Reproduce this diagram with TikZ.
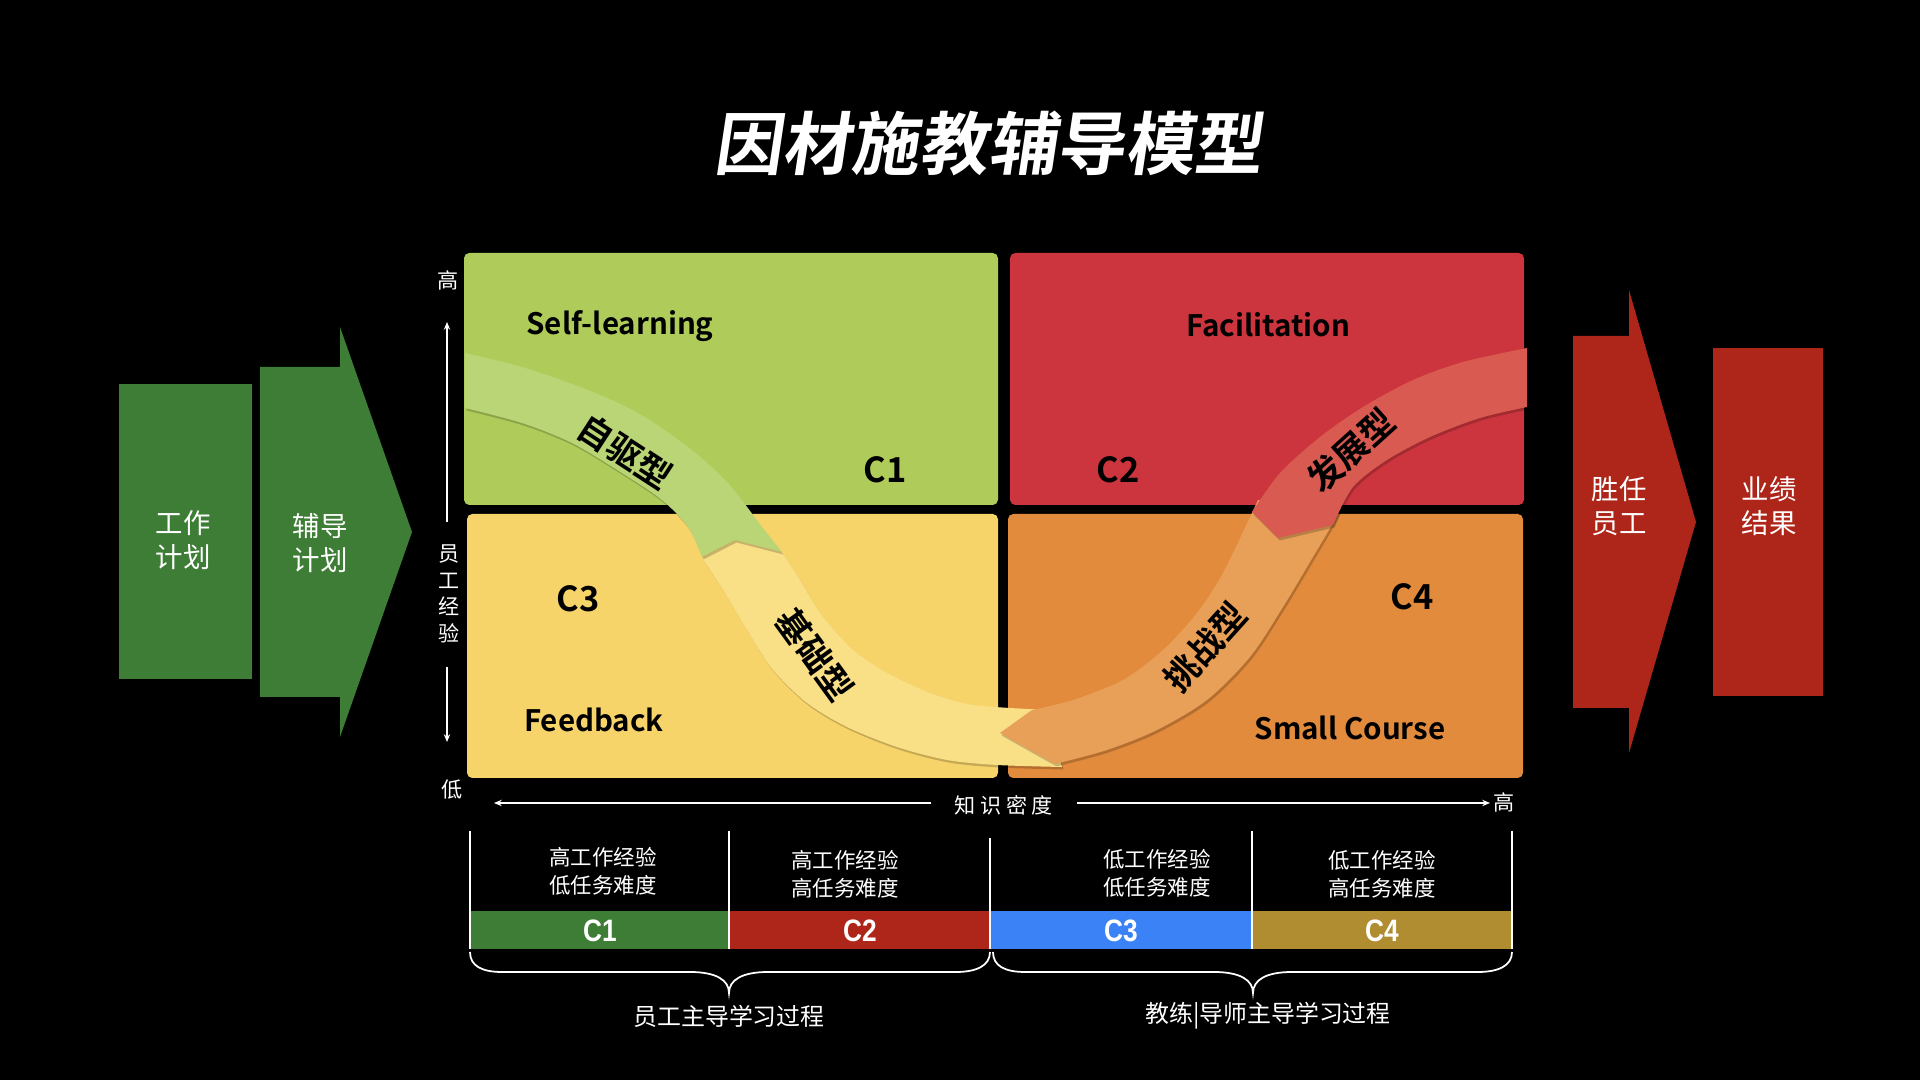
\documentclass[tikz,border=0pt]{standalone}
\usepackage{fontspec}
\setmainfont{Noto Sans CJK SC}
\newfontfamily\cjkb{Noto Sans CJK SC Bold}
\newfontfamily\titlef{Noto Sans CJK SC Bold}[FakeSlant=0.15]
\newfontfamily\barf{Liberation Sans Bold}[FakeStretch=0.85]
\usetikzlibrary{arrows.meta}
\definecolor{dkgreen}{HTML}{3D7D35}
\definecolor{dkred}{HTML}{AE261A}
\definecolor{qgreen}{HTML}{AFCC5A}
\definecolor{bgreen}{HTML}{BAD575}
\definecolor{qred}{HTML}{CC353D}
\definecolor{bred}{HTML}{D85A50}
\definecolor{qyellow}{HTML}{F7D469}
\definecolor{byellow}{HTML}{F9E087}
\definecolor{qorange}{HTML}{E28B3C}
\definecolor{borange}{HTML}{E8A058}
\definecolor{cblue}{HTML}{3B82F6}
\definecolor{cgold}{HTML}{B08D30}
\newcommand\fsz[2]{\fontsize{#1}{#2}\selectfont}
\newcommand\gbandpath{plot[smooth] coordinates {(465,353) (522,367) (588,390) (638,413) (688,447) (728,483) (762,527) (782,552)} -- (735,540) -- (702,557) -- plot[smooth] coordinates {(702,557) (688,527) (662,500) (622,473) (572,443) (522,423) (465,408)} -- cycle}
\newcommand\ybandpath{(735,540) -- (702,558) -- plot[smooth] coordinates {(702,558) (723,590) (747,630) (773,670) (807,703) (847,727) (897,747) (947,760) (997,765) (1062,767)} -- plot[smooth] coordinates {(1048,710) (973,705) (930,693) (887,673) (853,650) (823,617) (800,580) (782,552)} -- cycle}
\newcommand\obandpath{(1000,733) -- (1055,764) -- plot[smooth] coordinates {(1055,764) (1107,750) (1157,730) (1207,700) (1250,657) (1283,607) (1313,557) (1333,523) (1340,508)} -- plot[smooth] coordinates {(1258,500) (1250,517) (1223,573) (1197,613) (1163,650) (1123,680) (1073,700) (1032,710)} -- cycle}
\newcommand\rbandpath{(1278,538) -- (1252,512) -- plot[smooth] coordinates {(1252,512) (1280,473) (1320,437) (1363,407) (1413,380) (1463,362) (1527,348)} -- plot[smooth] coordinates {(1527,407) (1480,418) (1430,437) (1387,460) (1353,487) (1333,525)} -- cycle}
\tikzset{
  every node/.style={inner sep=0pt, outer sep=0pt},
  quad/.style={rounded corners=1.5pt},
  shad/.style={fill=black, opacity=0.2, shift={(1.5,2.5)}},
  axisline/.style={white, line width=0.5pt},
  axisarrow/.style={axisline, -{Stealth[length=2.2pt,width=1.8pt]}},
  axtxt/.style={text=white, font=\fsz{6pt}{7.6pt}, align=center},
  boxtxt/.style={text=white, font=\fsz{7.8pt}{9.6pt}, align=center},
  bandtxt/.style={text=black, font=\cjkb\fsz{9.8pt}{10pt}},
  qlbl/.style={text=black, font=\cjkb\fsz{8.4pt}{9pt}, anchor=base},
  qc/.style={text=black, font=\cjkb\fsz{9.8pt}{10pt}, anchor=base},
  tbltxt/.style={text=white, font=\fsz{6.1pt}{8pt}, align=center},
  barlbl/.style={text=white, font=\barf\fsz{8.8pt}{9pt}, anchor=base},
  proc/.style={text=white, font=\fsz{6.8pt}{8pt}},
  tline/.style={white, line width=0.45pt},
  brace/.style={white, line width=0.5pt}
}
\begin{document}
\begin{tikzpicture}[x=0.01cm, y=-0.01cm]
\fill[black] (0,0) rectangle (1920,1080);
\useasboundingbox (0,0) rectangle (1920,1080);

% title
\node[text=white, font=\titlef\fsz{19.5pt}{20pt}] (title) at (988,143) {因材施教辅导模型};

% left shapes
\fill[dkgreen] (119,384) rectangle (252,679);
\node[boxtxt] (gz) at (183,540) {工作\\计划};
\fill[dkgreen] (260,367) -- (340,367) -- (340,327) -- (412,532) -- (340,737) -- (340,697) -- (260,697) -- cycle;
\node[boxtxt] (fd) at (320,543) {辅导\\计划};

% right shapes
\fill[dkred] (1573,336) -- (1629,336) -- (1629,290) -- (1696,522) -- (1629,753) -- (1629,708) -- (1573,708) -- cycle;
\node[boxtxt] (sr) at (1619,506) {胜任\\员工};
\fill[dkred] (1713,348) rectangle (1823,696);
\node[boxtxt] (yj) at (1769,506) {业绩\\结果};

% quadrants
\fill[qgreen, quad] (464,253) rectangle (998,505);
\fill[qred, quad] (1010,253) rectangle (1524,505);
\fill[qyellow, quad] (467,514) rectangle (998,778);
\fill[qorange, quad] (1008,514) rectangle (1523,778);

% bands
\fill[shad] \ybandpath;
\fill[byellow] \ybandpath;
\fill[shad] \gbandpath;
\fill[bgreen] \gbandpath;
\fill[shad] \obandpath;
\fill[borange] \obandpath;
\fill[shad] \rbandpath;
\fill[bred] \rbandpath;

\node[bandtxt, rotate=-33] (t1) at (625,452) {自驱型};
\node[bandtxt, rotate=-54] (t2) at (815,655) {基础型};
\node[bandtxt, rotate=48] (t3) at (1205,647) {挑战型};
\node[bandtxt, rotate=42] (t4) at (1351,450) {发展型};

% quadrant labels
\node[qlbl] (sl) at (620,335) {Self-learning};
\node[qlbl] (fa) at (1268,337) {Facilitation};
\node[qlbl] (fb) at (594,732) {Feedback};
\node[qlbl] (sc) at (1350,740) {Small Course};
\node[qc] (q1) at (885,483) {C1};
\node[qc] (q2) at (1118,483) {C2};
\node[qc] (q3) at (578,612) {C3};
\node[qc] (q4) at (1412,610) {C4};

% axes
\coordinate (vu0) at (447,522); \coordinate (vu1) at (447,322);
\coordinate (vd0) at (447,667); \coordinate (vd1) at (447,742);
\coordinate (hl0) at (931,803); \coordinate (hl1) at (494,803);
\coordinate (hr0) at (1077,803); \coordinate (hr1) at (1490,803);
\draw[axisarrow] (vu0) -- (vu1);
\draw[axisarrow] (vd0) -- (vd1);
\draw[axisarrow] (hl0) -- (hl1);
\draw[axisarrow] (hr0) -- (hr1);
\node[axtxt] (hi1) at (448,280) {高};
\node[axtxt] (lo) at (452,790) {低};
\node[axtxt] (hi2) at (1504,802) {高};
\node[axtxt] (ye) at (449,594) {员\\工\\经\\验};
\node[axtxt] (kd) at (1004,805) {知\hspace{1.3pt}识\hspace{1.3pt}密\hspace{1.3pt}度};

% table bars
\fill[dkgreen] (470,911) rectangle (729,949);
\fill[dkred] (729,911) rectangle (990,949);
\fill[cblue] (990,911) rectangle (1252,949);
\fill[cgold] (1252,911) rectangle (1512,949);
\draw[tline] (470,831) -- (470,949);
\draw[tline] (729,831) -- (729,949);
\draw[tline] (990,838) -- (990,949);
\draw[tline] (1252,831) -- (1252,949);
\draw[tline] (1512,831) -- (1512,949);
\node[barlbl] (b1) at (600,942) {C1};
\node[barlbl] (b2) at (860,942) {C2};
\node[barlbl] (b3) at (1121,942) {C3};
\node[barlbl] (b4) at (1382,942) {C4};
\node[tbltxt] (d1) at (603,871) {高工作经验\\低任务难度};
\node[tbltxt] (d2) at (845,874) {高工作经验\\高任务难度};
\node[tbltxt] (d3) at (1157,873) {低工作经验\\低任务难度};
\node[tbltxt] (d4) at (1382,874) {低工作经验\\高任务难度};

% braces
\draw[brace] (470,952) .. controls (470,966) and (482,972) .. (502,972) -- (690,972) .. controls (716,972) and (729,980) .. (729,993) .. controls (729,980) and (742,972) .. (768,972) -- (956,972) .. controls (976,972) and (990,966) .. (990,952);
\draw[brace] (993,952) .. controls (993,966) and (1005,972) .. (1025,972) -- (1214,972) .. controls (1240,972) and (1253,980) .. (1253,993) .. controls (1253,980) and (1266,972) .. (1292,972) -- (1478,972) .. controls (1498,972) and (1512,966) .. (1512,952);
\node[proc] (p1) at (729,1016) {员工主导学习过程};
\node[proc] (p2) at (1268,1016) {教练|导师主导学习过程};
\end{tikzpicture}
\end{document}
